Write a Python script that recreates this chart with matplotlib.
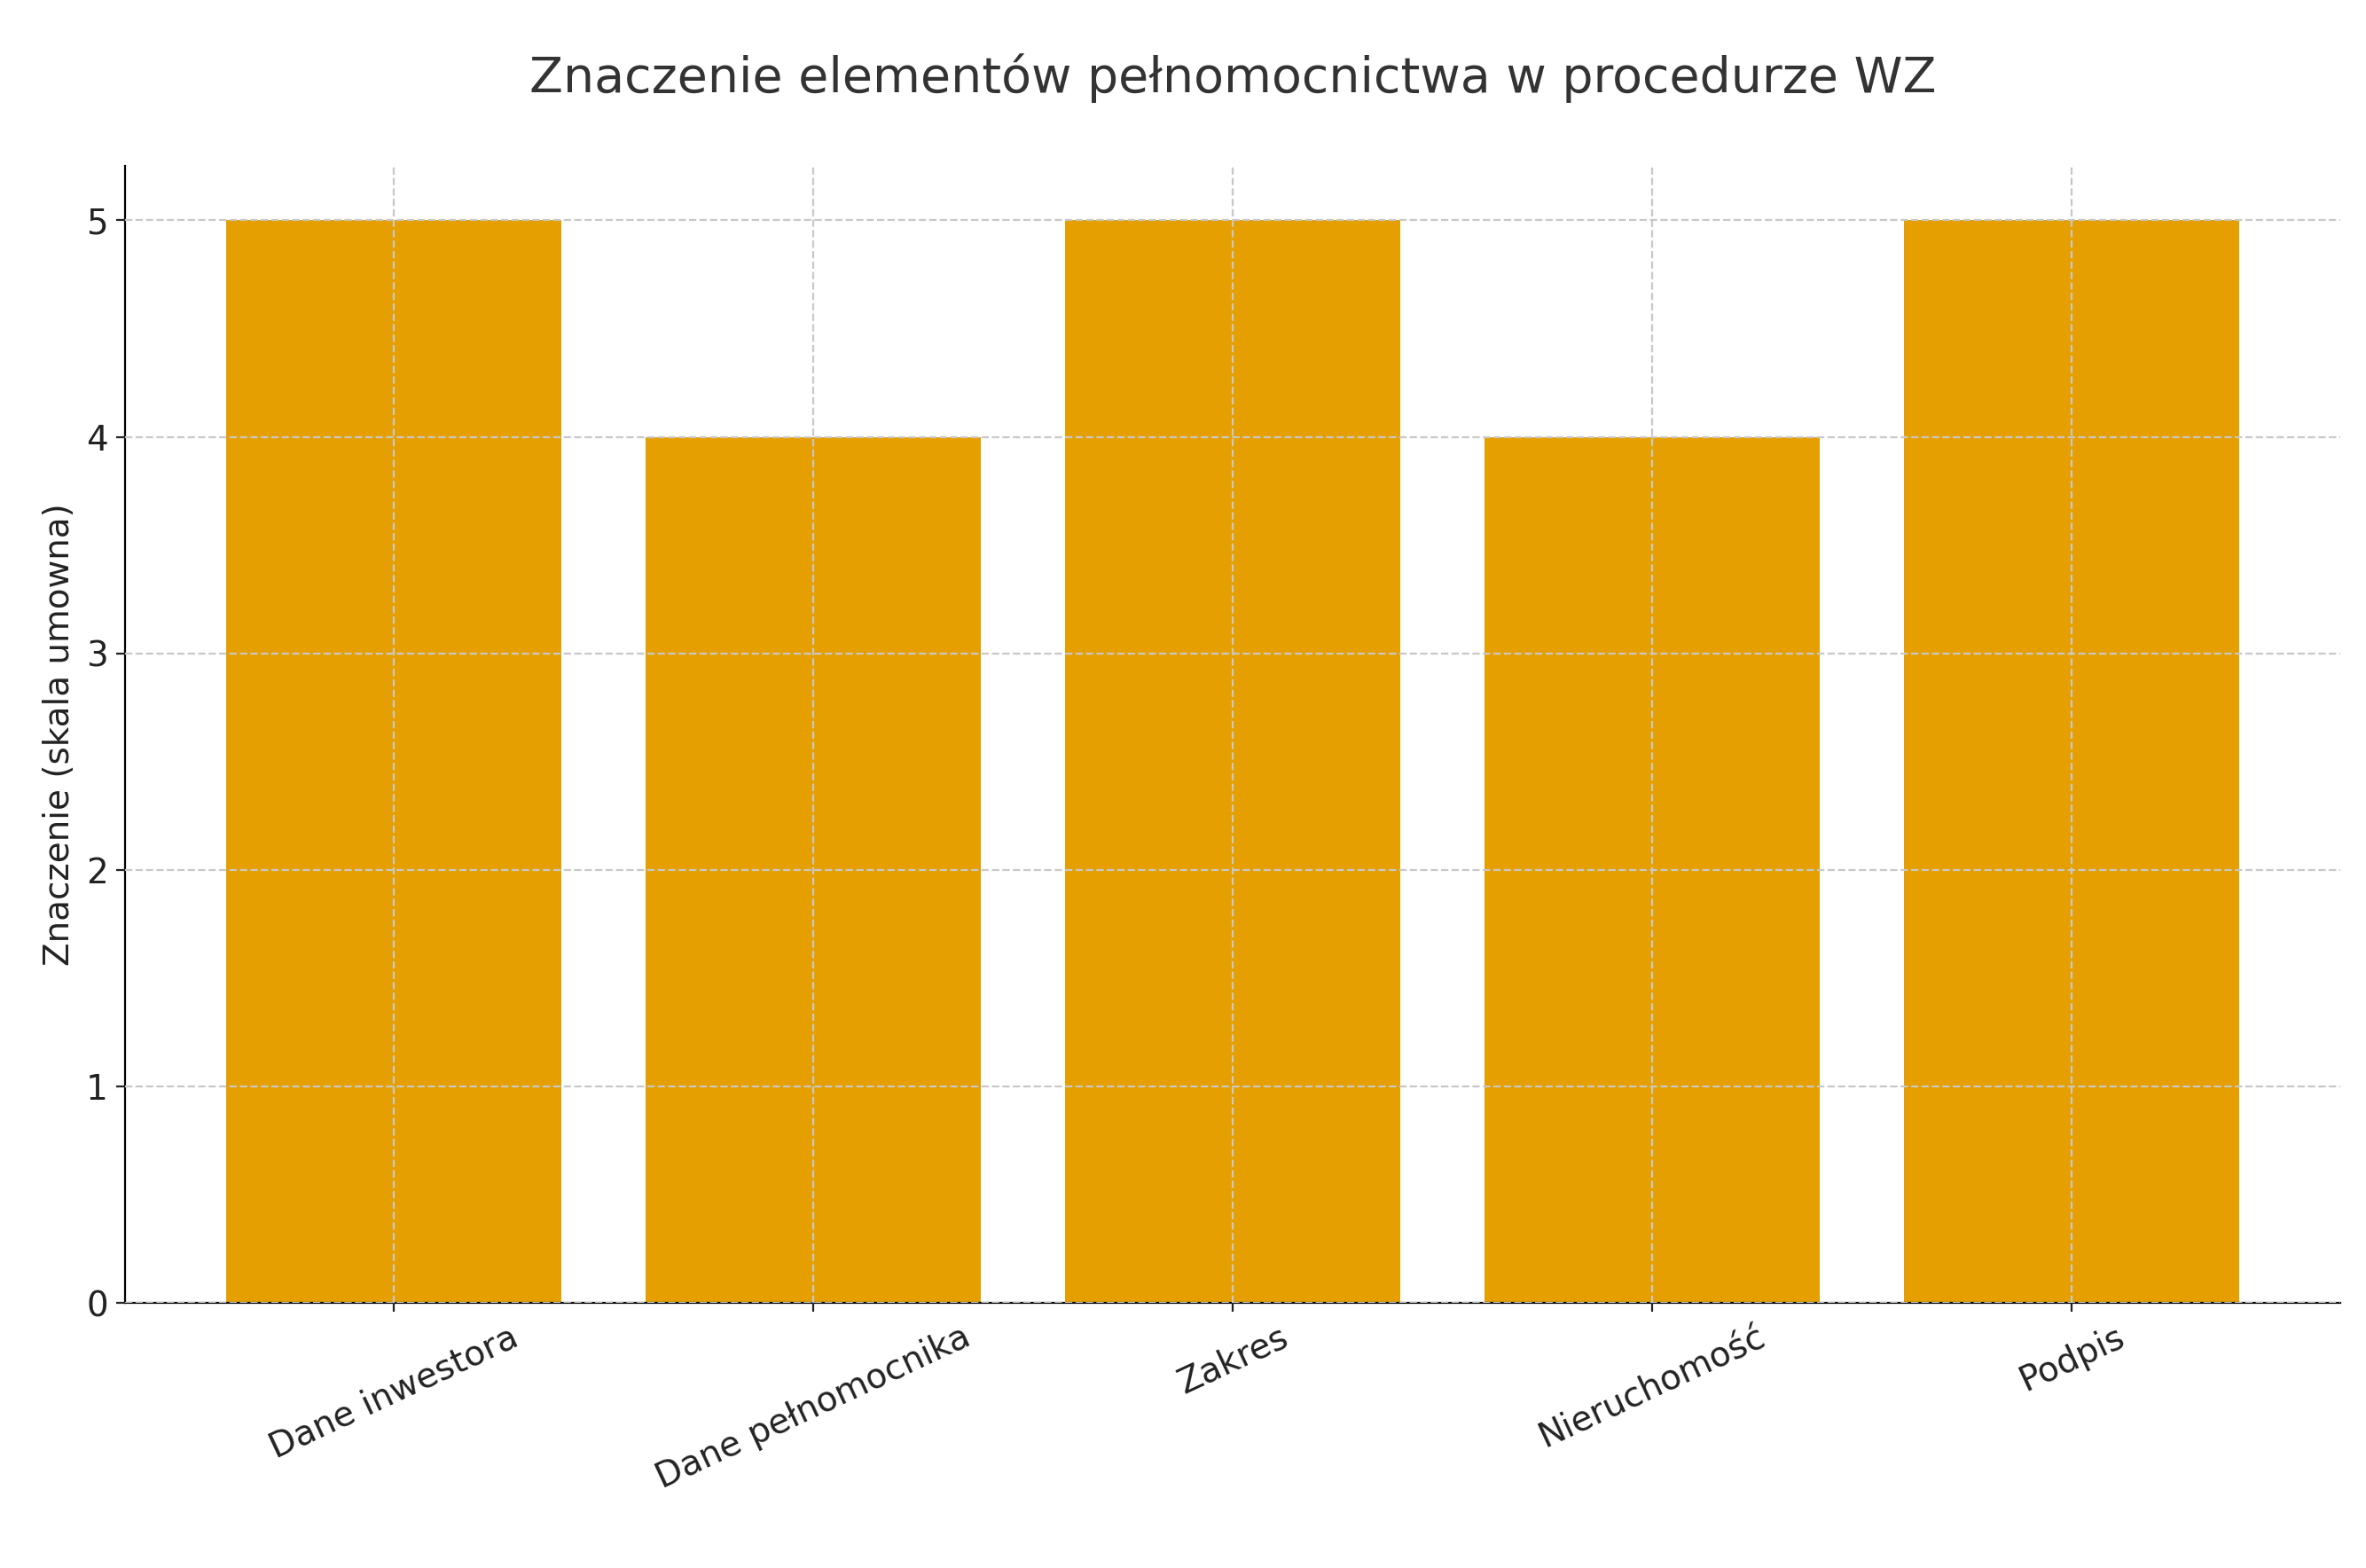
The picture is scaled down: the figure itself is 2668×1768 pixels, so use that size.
import matplotlib
matplotlib.use("Agg")
import matplotlib.pyplot as plt

categories = ["Dane inwestora", "Dane pełnomocnika", "Zakres", "Nieruchomość", "Podpis"]
values = [5, 4, 5, 4, 5]

fig = plt.figure(figsize=(13.34, 8.84), dpi=200)
ax = fig.add_axes([0.053, 0.169, 0.936, 0.725])
ax.bar(categories, values, color="#E69F00", width=0.8, zorder=2)
ax.set_ylim(0, 5.25)
ax.set_xlim(-0.64, 4.64)
ax.grid(True, linestyle="--", color="#c8c8c8", linewidth=0.8, zorder=3)
ax.set_axisbelow(False)
for s in ["top", "right"]:
    ax.spines[s].set_visible(False)
ax.tick_params(labelsize=14, colors="#222222")
plt.setp(ax.get_xticklabels(), rotation=25)
ax.set_ylabel("Znaczenie (skala umowna)", fontsize=14, color="#222222")
ax.set_title("Znaczenie elementów pełnomocnictwa w procedurze WZ", fontsize=20, color="#333333", pad=30)
fig.savefig("out.png", dpi=200)
